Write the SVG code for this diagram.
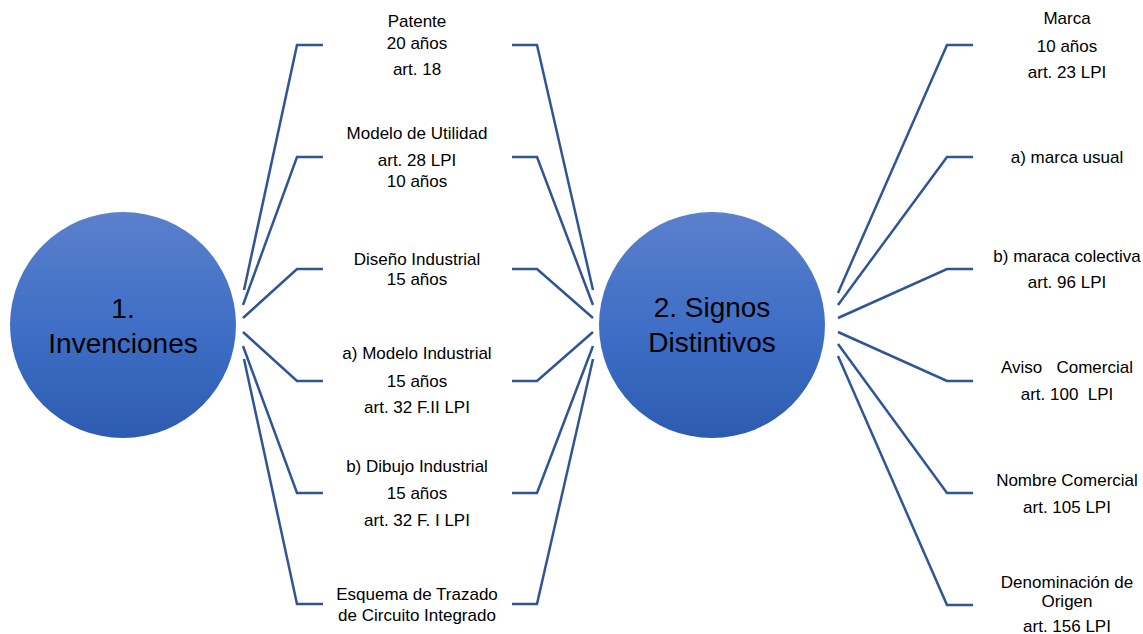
<svg xmlns="http://www.w3.org/2000/svg" width="1143" height="634" viewBox="0 0 1143 634">
<defs>
<linearGradient id="g" x1="0" y1="0" x2="0" y2="1">
<stop offset="0" stop-color="#5b80cc"/>
<stop offset="0.5" stop-color="#3f6fc6"/>
<stop offset="1" stop-color="#2d5bb2"/>
</linearGradient>
<style>
.c{fill:url(#g);}
.big{font-family:"Liberation Sans",Arial,sans-serif;font-size:28px;fill:#000;text-anchor:middle;}
.t{font-family:"Liberation Sans",Arial,sans-serif;font-size:17px;fill:#000;text-anchor:middle;white-space:pre;}
.l{fill:none;stroke:#2f5597;stroke-width:2.5;stroke-linejoin:miter;}
</style>
</defs>
<rect width="1143" height="634" fill="#fff"/>
<g id="connectors">
<path class="l" d="M323,45 L297,45 L244,290"/>
<path class="l" d="M323,157 L297,157 L243,305"/>
<path class="l" d="M323,269 L297,269 L243,318"/>
<path class="l" d="M323,381 L297,381 L243,332"/>
<path class="l" d="M323,493 L297,493 L243,346"/>
<path class="l" d="M323,604 L297,604 L244,359"/>
<path class="l" d="M512,45 L537,45 L593,290"/>
<path class="l" d="M512,157 L537,157 L593,305"/>
<path class="l" d="M512,269 L537,269 L593,318"/>
<path class="l" d="M512,381 L537,381 L593,332"/>
<path class="l" d="M512,493 L537,493 L593,346"/>
<path class="l" d="M512,604 L537,604 L593,359"/>
<path class="l" d="M838,293 L947,45 L973,45"/>
<path class="l" d="M838,305 L947,157 L973,157"/>
<path class="l" d="M838,318 L947,269 L973,269"/>
<path class="l" d="M838,332 L947,381 L973,381"/>
<path class="l" d="M838,344 L947,493 L973,493"/>
<path class="l" d="M838,356 L947,605 L973,605"/>
</g>
<g id="invenciones">
<circle class="c" cx="123" cy="325" r="113"/>
<text class="big" x="123" y="318">1.</text>
<text class="big" x="123" y="353">Invenciones</text>
</g>
<g id="signos">
<circle class="c" cx="712" cy="325" r="113"/>
<text class="big" x="712" y="317">2. Signos</text>
<text class="big" x="712" y="352">Distintivos</text>
</g>
<g id="patente">
<text class="t" x="417" y="27">Patente</text>
<text class="t" x="417" y="49">20 años</text>
<text class="t" x="417" y="75">art. 18</text>
</g>
<g id="modelo-utilidad">
<text class="t" x="417" y="139">Modelo de Utilidad</text>
<text class="t" x="417" y="166">art. 28 LPI</text>
<text class="t" x="417" y="187">10 años</text>
</g>
<g id="diseno-industrial">
<text class="t" x="417" y="265">Diseño Industrial</text>
<text class="t" x="417" y="285">15 años</text>
</g>
<g id="modelo-industrial">
<text class="t" x="417" y="359">a) Modelo Industrial</text>
<text class="t" x="417" y="387">15 años</text>
<text class="t" x="417" y="413">art. 32 F.II LPI</text>
</g>
<g id="dibujo-industrial">
<text class="t" x="417" y="472">b) Dibujo Industrial</text>
<text class="t" x="417" y="499">15 años</text>
<text class="t" x="417" y="526">art. 32 F. I LPI</text>
</g>
<g id="esquema">
<text class="t" x="417" y="600">Esquema de Trazado</text>
<text class="t" x="417" y="621">de Circuito Integrado</text>
</g>
<g id="marca">
<text class="t" x="1067" y="24">Marca</text>
<text class="t" x="1067" y="52">10 años</text>
<text class="t" x="1067" y="78">art. 23 LPI</text>
</g>
<g id="marca-usual">
<text class="t" x="1067" y="163">a) marca usual</text>
</g>
<g id="marca-colectiva">
<text class="t" x="1067" y="262">b) maraca colectiva</text>
<text class="t" x="1067" y="288">art. 96 LPI</text>
</g>
<g id="aviso-comercial">
<text class="t" x="1067" y="373" xml:space="preserve">Aviso   Comercial</text>
<text class="t" x="1067" y="400" xml:space="preserve">art. 100  LPI</text>
</g>
<g id="nombre-comercial">
<text class="t" x="1067" y="486">Nombre Comercial</text>
<text class="t" x="1067" y="513">art. 105 LPI</text>
</g>
<g id="denominacion-origen">
<text class="t" x="1067" y="588">Denominación de</text>
<text class="t" x="1067" y="607">Origen</text>
<text class="t" x="1067" y="632">art. 156 LPI</text>
</g>
</svg>
